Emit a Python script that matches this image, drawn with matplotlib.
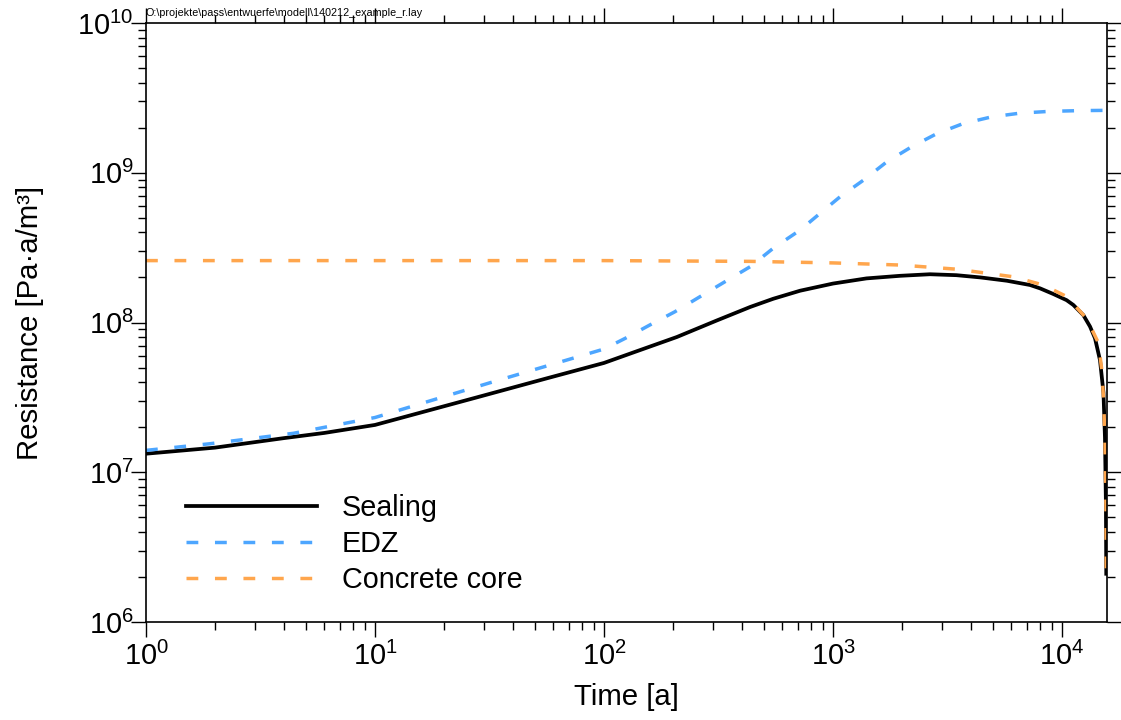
import matplotlib
matplotlib.use("Agg")
import matplotlib.pyplot as plt

plt.rcParams['font.family'] = ['Liberation Sans', 'DejaVu Sans']

# time [a] and resistance [Pa·a/m³] per component
t_sealing = [1, 2, 4, 6, 10, 28, 56, 100, 134, 208, 310, 435, 548, 718, 1000,
             1400, 1960, 2650, 3460, 4400, 5750, 7250, 8020, 9160, 10470,
             11200, 12390, 13250, 13930, 14650, 15170, 15400, 15550, 15600]
r_sealing = [1.33e7, 1.46e7, 1.69e7, 1.83e7, 2.07e7, 3.17e7, 4.23e7, 5.37e7,
             6.3e7, 8.0e7, 1.03e8, 1.27e8, 1.44e8, 1.63e8, 1.82e8, 1.97e8,
             2.05e8, 2.1e8, 2.07e8, 2.0e8, 1.9e8, 1.78e8, 1.69e8, 1.55e8,
             1.41e8, 1.31e8, 1.12e8, 9.4e7, 7.85e7, 5.6e7, 3.4e7, 1.7e7,
             6e6, 2.1e6]

t_edz = [1, 1.9, 4.4, 10, 31.6, 100, 124, 158, 204, 263, 337, 435, 548, 718,
         877, 1072, 1355, 1714, 2203, 2830, 3700, 4920, 6550, 8800, 12000,
         15650]
r_edz = [1.40e7, 1.55e7, 1.82e7, 2.32e7, 3.95e7, 6.65e7, 7.85e7, 9.6e7,
         1.18e8, 1.49e8, 1.87e8, 2.36e8, 3.13e8, 4.14e8, 5.35e8, 6.9e8,
         8.9e8, 1.18e9, 1.49e9, 1.82e9, 2.13e9, 2.36e9, 2.5e9, 2.57e9,
         2.6e9, 2.61e9]

t_core = [1, 100, 435, 1000, 1960, 3460, 6120, 8280, 10480, 12820, 14420,
          14920, 15200, 15400, 15550, 15600]
r_core = [2.59e8, 2.59e8, 2.56e8, 2.5e8, 2.42e8, 2.27e8, 2.02e8, 1.78e8,
          1.49e8, 1.06e8, 7.3e7, 4.8e7, 3.0e7, 1.6e7, 6e6, 2.07e6]

fig = plt.figure(figsize=(11.21, 7.2), dpi=100)
ax = fig.add_axes([146 / 1121, 1 - 622 / 720, (1106.7 - 146) / 1121, (622 - 23) / 720])

ax.plot(t_sealing, r_sealing, color='black', lw=2.7, label='Sealing')
ax.plot(t_edz, r_edz, color='#4da6ff', lw=2.5, dashes=(3.4, 4.8), label='EDZ')
ax.plot(t_core, r_core, color='#ffa64d', lw=2.5, dashes=(3.4, 4.8), label='Concrete core')

ax.set_xscale('log')
ax.set_yscale('log')
ax.set_xlim(1, 1.567e4)
ax.set_ylim(1e6, 1e10)

ax.tick_params(which='both', direction='out', top=True, right=True, labelsize=20.8)
ax.tick_params(which='major', length=10.5, width=1)
ax.tick_params(which='minor', length=6, width=1)
ax.tick_params(axis='y', pad=-1.5)
for s in ax.spines.values():
    s.set_linewidth(1.2)

ax.set_xlabel('Time [a]', fontsize=21.2, labelpad=9)
ax.set_ylabel('Resistance [Pa·a/m³]', fontsize=21.2, labelpad=24)

ax.legend(loc='upper left', bbox_to_anchor=(0.0416, 0.214), frameon=False,
          fontsize=20.7, handlelength=4.55, handletextpad=0.87, labelspacing=0.29,
          borderpad=0, borderaxespad=0)

fig.text(146 / 1121, 1 - 13 / 720, r'O:\projekte\pass\entwuerfe\modell\140212_example_r.lay',
         fontsize=7.75, va='center', ha='left')

fig.savefig('out.png', dpi=100)
